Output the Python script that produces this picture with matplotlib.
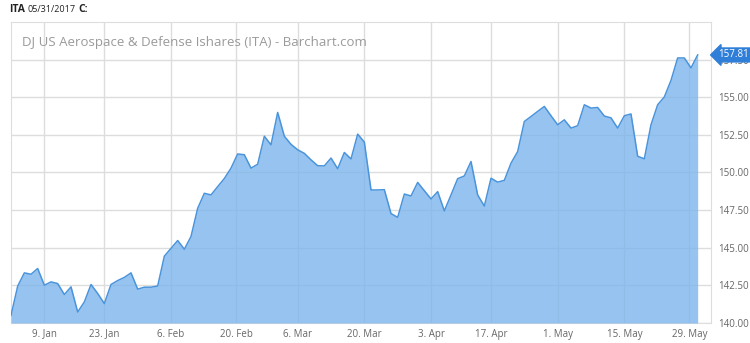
import numpy as np
import pandas as pd
import matplotlib
matplotlib.use("Agg")
import matplotlib.pyplot as plt

plt.rcParams['font.family'] = ['Open Sans', 'DejaVu Sans']

# trading days, Dec 30 2016 .. May 31 2017
holidays = ["2017-01-02", "2017-01-16", "2017-02-20", "2017-04-14", "2017-05-29"]
dates = pd.bdate_range("2016-12-30", "2017-05-31")
dates = dates[~dates.isin(pd.to_datetime(holidays))]

close = [
    140.51, 142.45, 143.33, 143.24, 143.62, 142.51, 142.73, 142.62, 141.89, 142.40,
    140.73, 141.40, 142.56, 141.96, 141.29, 142.56, 142.82, 143.03, 143.33, 142.25,
    142.38, 142.38, 142.46, 144.44, 144.96, 145.48, 144.90, 145.75, 147.62, 148.62,
    148.51, 149.06, 149.60, 150.29, 151.23, 151.18, 150.29, 150.55, 152.41, 151.84,
    153.99, 152.41, 151.87, 151.51, 151.27, 150.84, 150.45, 150.44, 150.96, 150.25,
    151.33, 150.90, 152.55, 152.02, 148.84, 148.84, 148.86, 147.27, 147.02, 148.57,
    148.44, 149.34, 148.79, 148.24, 148.73, 147.45, 148.51, 149.59, 149.77, 150.73,
    148.51, 147.77, 149.62, 149.36, 149.48, 150.62, 151.39, 153.39, 153.72, 154.06,
    154.39, 153.77, 153.17, 153.50, 152.95, 153.11, 154.50, 154.28, 154.32, 153.75,
    153.63, 152.95, 153.77, 153.89, 151.08, 150.91, 153.17, 154.50, 155.02, 156.12,
    157.61, 157.61, 156.95, 157.81,
]

tick_dates = ["2017-01-09", "2017-01-23", "2017-02-06", "2017-02-20", "2017-03-06",
              "2017-03-20", "2017-04-03", "2017-04-17", "2017-05-01", "2017-05-15",
              "2017-05-29"]
tick_labels = ["9. Jan", "23. Jan", "6. Feb", "20. Feb", "6. Mar", "20. Mar",
               "3. Apr", "17. Apr", "1. May", "15. May", "29. May"]
y_ticks = [140.0, 142.5, 145.0, 147.5, 150.0, 152.5, 155.0, 157.5]

# ordinal x axis: one step per trading day
x = np.arange(len(dates))
day_num = dates.values.astype("datetime64[D]").astype(float)
tick_x = np.interp(pd.to_datetime(tick_dates).values.astype("datetime64[D]").astype(float),
                   day_num, x)

fig = plt.figure(figsize=(7.5, 3.43), dpi=100)
ax = fig.add_axes([0.0147, 0.0583, 0.9333, 0.8776])

ax.fill_between(x, close, 140, color="#7cb5ec", alpha=0.8, lw=0, zorder=3)
ax.plot(x, close, color="#4a94dc", lw=1.1, zorder=4)

ax.set_xlim(x[0], x[-1] + 2)
ax.set_ylim(140, 160)
ax.set_xticks(tick_x)
ax.set_xticklabels(tick_labels)
ax.set_yticks(y_ticks)
ax.set_yticklabels([f"{v:.2f}" for v in y_ticks])
ax.yaxis.tick_right()
ax.tick_params(axis="both", length=0, labelsize=7, colors="#666666")
ax.tick_params(axis="y", pad=5.5)
ax.tick_params(axis="x", pad=4)
ax.grid(True, color="#dddddd", lw=1, zorder=0)
ax.set_axisbelow(True)
for s in ax.spines.values():
    s.set_color("#dddddd")

ax.text(0.016, 0.955, "DJ US Aerospace & Defense Ishares (ITA) - Barchart.com",
        transform=ax.transAxes, fontsize=9.5, color="#9a9a9a", va="top", ha="left", zorder=5)

# header, each piece placed right after the previous one
t1 = fig.text(0.012, 0.972, "ITA", fontsize=7.5, fontweight="bold", va="center", color="#222222")
t2 = ax.annotate("05/31/2017", xy=(1, 0.5), xycoords=t1, xytext=(2, 0),
                 textcoords="offset points", va="center", ha="left",
                 fontsize=6.5, color="#222222", annotation_clip=False)
ax.annotate("C:", xy=(1, 0.5), xycoords=t2, xytext=(2, 0),
            textcoords="offset points", va="center", ha="left",
            fontsize=7.5, fontweight="bold", color="#222222", annotation_clip=False)

# last value flag
ax.annotate(f"{close[-1]:.2f}", xy=(1.0, close[-1]), xycoords=("axes fraction", "data"),
            xytext=(5, 0), textcoords="offset points", va="center", ha="left",
            fontsize=7, color="white",
            bbox=dict(boxstyle="larrow,pad=0.15", fc="#2f7ed8", ec="#2f7ed8"),
            annotation_clip=False, zorder=6)

fig.savefig("out.png", dpi=100)
